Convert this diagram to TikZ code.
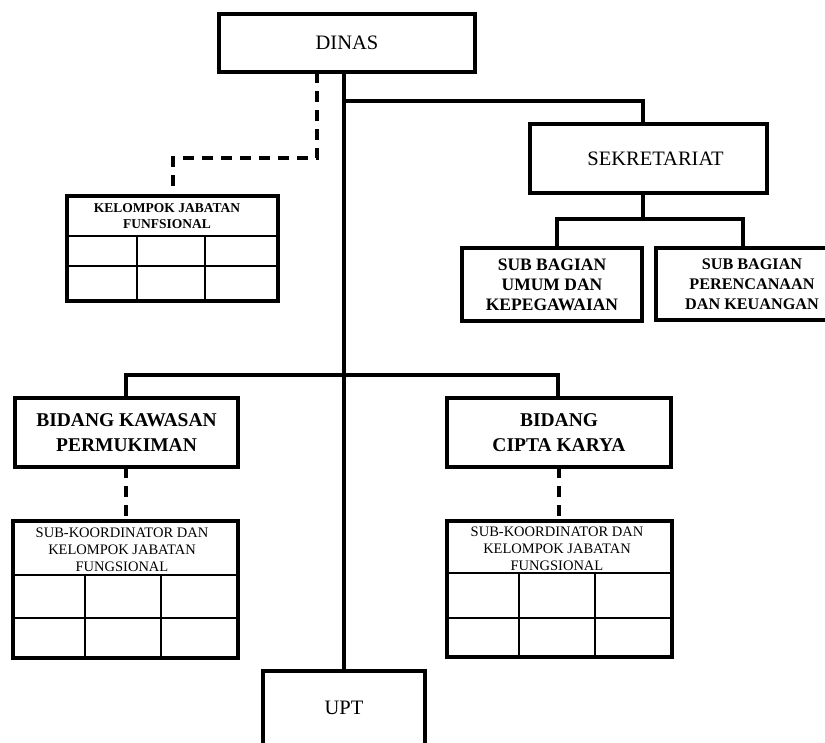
\documentclass[tikz,border=0pt]{standalone}
\usepackage{fontspec}
\setmainfont{Liberation Serif}
\begin{document}
\begin{tikzpicture}[x=1pt,y=-1pt,
  box/.style={draw=black,line width=3.6pt,rectangle,inner sep=0pt,outer sep=0pt,align=center,fill=white},
  big/.style={font=\fontsize{20.5}{24}\selectfont},
  bid/.style={font=\fontsize{19.5}{25}\selectfont\bfseries},
  sub/.style={font=\fontsize{17.5}{20}\selectfont\bfseries},
  subs/.style={font=\fontsize{16.2}{20}\selectfont\bfseries},
  hdr/.style={font=\fontsize{14.5}{17}\selectfont,align=center,inner sep=0pt},
  hdrb/.style={font=\fontsize{13.5}{16}\selectfont\bfseries,align=center,inner sep=0pt},
  conn/.style={draw=black,line width=3.2pt},
  dconn/.style={draw=black,line width=3.2pt,dash pattern=on 11pt off 8pt},
  grid/.style={draw=black,line width=2.2pt}]
\clip (0,0) rectangle (825,742);
\fill[white] (0,0) rectangle (825,742);

% boxes
\node[box,big,minimum width=256pt,minimum height=58pt] (dinas) at (347,43) {DINAS};
\node[box,big,minimum width=237pt,minimum height=69pt] (sek) at (648.5,158.5) {\hspace*{14pt}SEKRETARIAT};
\node[box,sub,minimum width=180pt,minimum height=73pt] (sbu) at (552,284.5) {SUB BAGIAN\\UMUM DAN\\KEPEGAWAIAN};
\node[box,subs,minimum width=192pt,minimum height=72pt] (sbp) at (752,284) {SUB BAGIAN\\PERENCANAAN\\DAN KEUANGAN};
\node[box,minimum width=211pt,minimum height=105pt] (kjf) at (172.5,248.5) {};
\node[box,bid,minimum width=223pt,minimum height=69pt] (bkp) at (126.5,432.5) {BIDANG KAWASAN\\PERMUKIMAN};
\node[box,bid,minimum width=224pt,minimum height=69pt] (bck) at (559,432.5) {BIDANG\\CIPTA KARYA};
\node[box,minimum width=225pt,minimum height=137pt] (skl) at (125.5,589.5) {};
\node[box,minimum width=225pt,minimum height=136pt] (skr) at (559.5,589) {};
\node[box,big,minimum width=162pt,minimum height=74pt] (upt) at (344,708) {UPT};

% route points
\coordinate (mx) at (344,0);
\coordinate (dx) at (317,0);
\coordinate (cx) at (559,0);
\coordinate (j1) at (344,101);
\coordinate (j2) at (643,101);
\coordinate (j3) at (643,219);
\coordinate (j4) at (557,219);
\coordinate (j5) at (743,219);
\coordinate (d1) at (317,158);
\coordinate (d2) at (173,158);
\coordinate (b1) at (126,375);
\coordinate (b2) at (558,375);

% connectors
\draw[conn] (mx |- dinas.south) -- (mx |- upt.north);
\draw[conn] (j1) -- (j2) -- (j2 |- sek.north);
\draw[conn] (j3 |- sek.south) -- (j3);
\draw[conn] (j4 |- sbu.north) -- (j4) -- (j5) -- (j5 |- sbp.north);
\draw[dconn] (dx |- dinas.south) -- (d1) -- (d2) -- (d2 |- kjf.north);
\draw[conn] (b1 |- bkp.north) -- (b1) -- (b2) -- (b2 |- bck.north);
\draw[dconn] (b1 |- bkp.south) -- (b1 |- skl.north);
\draw[dconn] (cx |- bck.south) -- (cx |- skr.north);

% table grids
\draw[grid] (67,236) -- (278,236) (67,266) -- (278,266) (137,236) -- (137,301) (205,236) -- (205,301);
\draw[grid] (13,575) -- (238,575) (13,618) -- (238,618) (85,575) -- (85,658) (161,575) -- (161,658);
\draw[grid] (447,573) -- (672,573) (447,618) -- (672,618) (519,573) -- (519,657) (595,573) -- (595,657);

% table headers
\node[hdrb] (kjft) at (167,216) {KELOMPOK JABATAN\\FUNFSIONAL};
\node[hdr] (sklt) at (122,550) {SUB-KOORDINATOR DAN\\KELOMPOK JABATAN\\FUNGSIONAL};
\node[hdr] (skrt) at (557,549) {SUB-KOORDINATOR DAN\\KELOMPOK JABATAN\\FUNGSIONAL};
\end{tikzpicture}
\end{document}
